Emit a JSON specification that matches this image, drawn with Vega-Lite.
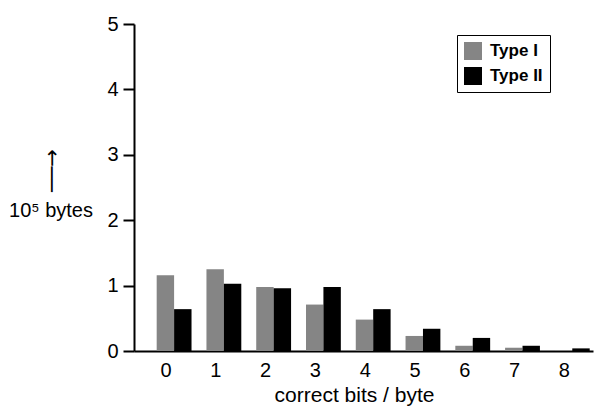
{
  "$schema": "https://vega.github.io/schema/vega-lite/v6.json",
  "width": 459,
  "height": 327,
  "autosize": "none",
  "padding": {"left": 134, "top": 24, "right": 2, "bottom": 55},
  "background": "white",
  "title": {"text": "10⁵ bytes", "orient": "top", "anchor": "start", "frame": "group", "align": "center", "baseline": "alphabetic", "offset": 0, "dx": -83, "dy": 223, "fontSize": 20, "fontWeight": "normal", "color": "black", "font": "Liberation Sans"},
  "config": {
    "font": "Liberation Sans",
    "view": {"stroke": null},
    "axis": {"domainColor": "black", "tickColor": "black", "labelColor": "black", "titleColor": "black", "grid": false, "domainWidth": 2, "tickWidth": 2}
  },
  "data": {
    "values": [
      {"bits": 0, "type": "Type I", "v": 1.16},
      {"bits": 0, "type": "Type II", "v": 0.64},
      {"bits": 1, "type": "Type I", "v": 1.25},
      {"bits": 1, "type": "Type II", "v": 1.03},
      {"bits": 2, "type": "Type I", "v": 0.98},
      {"bits": 2, "type": "Type II", "v": 0.96},
      {"bits": 3, "type": "Type I", "v": 0.71},
      {"bits": 3, "type": "Type II", "v": 0.98},
      {"bits": 4, "type": "Type I", "v": 0.48},
      {"bits": 4, "type": "Type II", "v": 0.64},
      {"bits": 5, "type": "Type I", "v": 0.23},
      {"bits": 5, "type": "Type II", "v": 0.34},
      {"bits": 6, "type": "Type I", "v": 0.08},
      {"bits": 6, "type": "Type II", "v": 0.2},
      {"bits": 7, "type": "Type I", "v": 0.05},
      {"bits": 7, "type": "Type II", "v": 0.08},
      {"bits": 8, "type": "Type I", "v": 0.01},
      {"bits": 8, "type": "Type II", "v": 0.04}
    ]
  },
  "mark": {"type": "bar"},
  "encoding": {
    "x": {
      "field": "bits", "type": "ordinal",
      "scale": {"paddingInner": 0.3, "paddingOuter": 0.261, "align": 0.873},
      "axis": {"title": "correct bits / byte", "titleFontSize": 21, "titleFontWeight": "normal", "titleX": 220, "titleY": 50, "titleBaseline": "alphabetic", "labelAngle": 0, "labelFontSize": 20, "ticks": false, "labelPadding": 9, "labelOffset": -8}
    },
    "xOffset": {"field": "type", "type": "nominal"},
    "y": {
      "field": "v", "type": "quantitative",
      "scale": {"domain": [0, 5], "nice": false},
      "axis": {"values": [0, 1, 2, 3, 4, 5], "labelFontSize": 20, "tickSize": 11, "labelPadding": 5, "title": "──→", "titleFont": "DejaVu Sans", "titleAngle": 270, "titleFontSize": 21, "titleFontWeight": "normal", "titleAlign": "center", "titleBaseline": "middle", "titleX": -82, "titleY": 146}
    },
    "color": {
      "field": "type", "type": "nominal",
      "scale": {"domain": ["Type I", "Type II"], "range": ["#858585", "#000000"]},
      "legend": {"title": null, "orient": "none", "legendX": 323, "legendY": 11, "symbolType": "square", "symbolSize": 324, "symbolStrokeWidth": 0, "labelFontSize": 17, "labelFontWeight": "bold", "labelOffset": 8, "strokeColor": "black", "padding": 7, "rowPadding": 7, "labelColor": "black"}
    }
  }
}
